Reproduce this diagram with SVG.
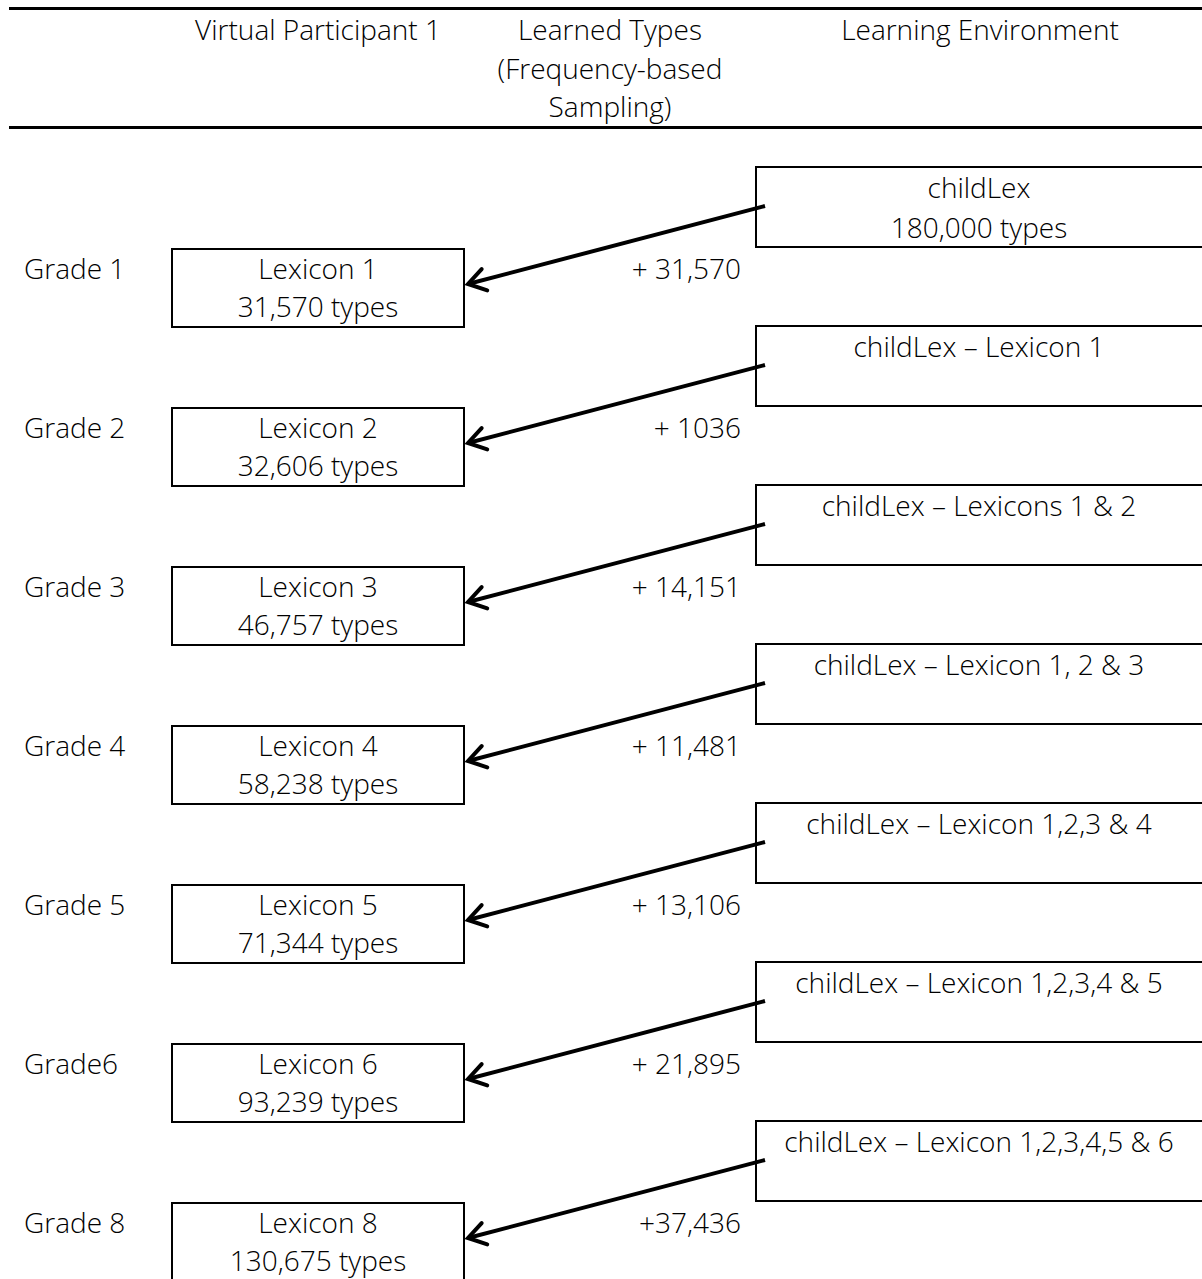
<svg xmlns="http://www.w3.org/2000/svg" width="1202" height="1279" viewBox="0 0 1202 1279">
<defs>
<style>
text{font-family:"Open Sans","Lato","Liberation Sans",sans-serif;font-weight:300;font-size:28px;fill:#000}
.c{text-anchor:middle}
.r{text-anchor:end}
.box{fill:#fff;stroke:#000;stroke-width:2}
.rule{stroke:#000;stroke-width:3}
.arrow{stroke:#000;stroke-width:4;fill:none;marker-end:url(#ah)}
</style>
<marker id="ah" markerUnits="userSpaceOnUse" viewBox="-22 -12 26 24" markerWidth="26" markerHeight="24" refX="0" refY="0" orient="auto" overflow="visible">
<path d="M -17,-11 L 0,0 L -17,11" fill="none" stroke="#000" stroke-width="4" stroke-linecap="round" stroke-linejoin="miter"/>
</marker>
</defs>
<rect width="1202" height="1279" fill="#fff"/>
<g id="header">
<line class="rule" x1="9" y1="8.5" x2="1202" y2="8.5"/>
<text class="c" x="318" y="40">Virtual Participant 1</text>
<text class="c" x="610" y="40">Learned Types</text>
<text class="c" x="610" y="79">(Frequency-based</text>
<text class="c" x="610" y="117">Sampling)</text>
<text class="c" x="980" y="40">Learning Environment</text>
<line class="rule" x1="9" y1="127.5" x2="1202" y2="127.5"/>
</g>
<g id="row1">
<text x="24" y="279">Grade 1</text>
<g id="lexicon1"><rect class="box" x="172" y="249" width="292" height="78"/><text class="c" x="318" y="279">Lexicon 1</text><text class="c" x="318" y="317">31,570 types</text></g>
<g id="env1"><rect class="box" x="756" y="167" width="450" height="80"/><text class="c" x="979" y="198">childLex</text><text class="c" x="979" y="238">180,000 types</text></g>
<text class="r" x="741" y="279">+ 31,570</text>
</g>
<g id="row2">
<text x="24" y="438">Grade 2</text>
<g id="lexicon2"><rect class="box" x="172" y="408" width="292" height="78"/><text class="c" x="318" y="438">Lexicon 2</text><text class="c" x="318" y="476">32,606 types</text></g>
<g id="env2"><rect class="box" x="756" y="326" width="450" height="80"/><text class="c" x="979" y="357">childLex – Lexicon 1</text></g>
<text class="r" x="741" y="438">+ 1036</text>
</g>
<g id="row3">
<text x="24" y="597">Grade 3</text>
<g id="lexicon3"><rect class="box" x="172" y="567" width="292" height="78"/><text class="c" x="318" y="597">Lexicon 3</text><text class="c" x="318" y="635">46,757 types</text></g>
<g id="env3"><rect class="box" x="756" y="485" width="450" height="80"/><text class="c" x="979" y="516">childLex – Lexicons 1 &amp; 2</text></g>
<text class="r" x="741" y="597">+ 14,151</text>
</g>
<g id="row4">
<text x="24" y="756">Grade 4</text>
<g id="lexicon4"><rect class="box" x="172" y="726" width="292" height="78"/><text class="c" x="318" y="756">Lexicon 4</text><text class="c" x="318" y="794">58,238 types</text></g>
<g id="env4"><rect class="box" x="756" y="644" width="450" height="80"/><text class="c" x="979" y="675">childLex – Lexicon 1, 2 &amp; 3</text></g>
<text class="r" x="741" y="756">+ 11,481</text>
</g>
<g id="row5">
<text x="24" y="915">Grade 5</text>
<g id="lexicon5"><rect class="box" x="172" y="885" width="292" height="78"/><text class="c" x="318" y="915">Lexicon 5</text><text class="c" x="318" y="953">71,344 types</text></g>
<g id="env5"><rect class="box" x="756" y="803" width="450" height="80"/><text class="c" x="979" y="834">childLex – Lexicon 1,2,3 &amp; 4</text></g>
<text class="r" x="741" y="915">+ 13,106</text>
</g>
<g id="row6">
<text x="24" y="1074">Grade6</text>
<g id="lexicon6"><rect class="box" x="172" y="1044" width="292" height="78"/><text class="c" x="318" y="1074">Lexicon 6</text><text class="c" x="318" y="1112">93,239 types</text></g>
<g id="env6"><rect class="box" x="756" y="962" width="450" height="80"/><text class="c" x="979" y="993">childLex – Lexicon 1,2,3,4 &amp; 5</text></g>
<text class="r" x="741" y="1074">+ 21,895</text>
</g>
<g id="row7">
<text x="24" y="1233">Grade 8</text>
<g id="lexicon8"><rect class="box" x="172" y="1203" width="292" height="78"/><text class="c" x="318" y="1233">Lexicon 8</text><text class="c" x="318" y="1271">130,675 types</text></g>
<g id="env7"><rect class="box" x="756" y="1121" width="450" height="80"/><text class="c" x="979" y="1152">childLex – Lexicon 1,2,3,4,5 &amp; 6</text></g>
<text class="r" x="741" y="1233">+37,436</text>
</g>
<g id="connectors">
<line class="arrow" x1="765" y1="206" x2="468" y2="284"/>
<line class="arrow" x1="765" y1="365" x2="468" y2="443"/>
<line class="arrow" x1="765" y1="524" x2="468" y2="602"/>
<line class="arrow" x1="765" y1="683" x2="468" y2="761"/>
<line class="arrow" x1="765" y1="842" x2="468" y2="920"/>
<line class="arrow" x1="765" y1="1001" x2="468" y2="1079"/>
<line class="arrow" x1="765" y1="1160" x2="468" y2="1238"/>
</g>
</svg>
